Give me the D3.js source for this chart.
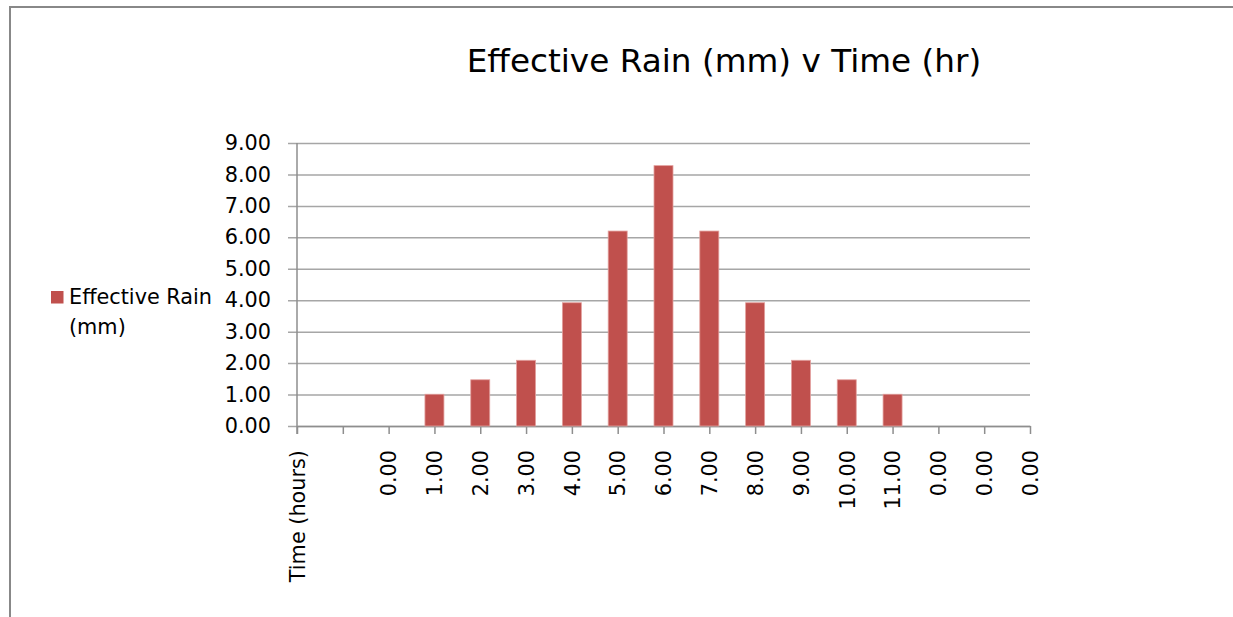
<!DOCTYPE html>
<html>
<head>
<meta charset="utf-8">
<script src="https://cdn.jsdelivr.net/npm/d3@7"></script>
<style>
  html, body { margin: 0; padding: 0; background: #fff; }
  svg { display: block; font-family: "DejaVu Sans", Verdana, sans-serif; }
</style>
</head>
<body>
<svg id="chart" width="1233" height="617"></svg>
<script>
// Category labels along the time axis (first entry is the header cell of the source column)
const timeLabels = ["Time (hours)", "", "0.00", "1.00", "2.00", "3.00", "4.00", "5.00",
  "6.00", "7.00", "8.00", "9.00", "10.00", "11.00", "0.00", "0.00", "0.00"];
// Effective rain depth (mm) per category
const effectiveRain = [null, null, 0, 1.01, 1.47, 2.09, 3.92, 6.20, 8.28, 6.20, 3.92,
  2.09, 1.47, 1.01, 0, 0, 0];
const yTicks = [0, 1, 2, 3, 4, 5, 6, 7, 8, 9];
const seriesName = ["Effective Rain", "(mm)"];
const titleText = "Effective Rain (mm) v Time (hr)";

const svg = d3.select("#chart");
const barColor = "#C0504D";
const gridColor = "#a6a6a6";
const axisColor = "#8e8e8e";
const labelSize = 20.8;

// Outer chart frame (left and top edges)
svg.append("path")
  .attr("d", "M10,617 V7 H1233")
  .attr("fill", "none")
  .attr("stroke", "#888")
  .attr("stroke-width", 2);

const plot = { left: 297, right: 1030, top: 143, bottom: 426 };

const x = d3.scalePoint()
  .domain(d3.range(timeLabels.length))
  .range([plot.left, plot.right])
  .padding(0);

const y = d3.scaleLinear()
  .domain([0, 9])
  .range([plot.bottom, plot.top]);

// Horizontal gridlines with short outward ticks
const yAxis = d3.axisLeft(y)
  .tickValues(yTicks)
  .tickFormat(d3.format(".2f"))
  .tickSize(-(plot.right - plot.left))
  .tickPadding(26);

const gy = svg.append("g")
  .attr("transform", `translate(${plot.left},0)`)
  .call(yAxis);
gy.select(".domain").remove();
gy.selectAll(".tick line")
  .attr("x1", -9)
  .attr("stroke", gridColor)
  .attr("stroke-width", 1.5);
gy.selectAll(".tick text")
  .attr("font-size", labelSize)
  .attr("fill", "#000")
  .attr("font-family", "DejaVu Sans, Verdana, sans-serif");

// Vertical axis line
svg.append("line")
  .attr("x1", plot.left).attr("x2", plot.left)
  .attr("y1", plot.top).attr("y2", plot.bottom + 8)
  .attr("stroke", axisColor)
  .attr("stroke-width", 1.5);

// Category axis
const xAxis = d3.axisBottom(x)
  .tickFormat(i => timeLabels[i])
  .tickSize(8)
  .tickSizeOuter(0)
  .tickPadding(0);

const gx = svg.append("g")
  .attr("transform", `translate(0,${plot.bottom})`)
  .call(xAxis);
gx.select(".domain")
  .attr("stroke", axisColor)
  .attr("stroke-width", 1.5);
gx.selectAll(".tick line")
  .attr("stroke", axisColor)
  .attr("stroke-width", 1.5);
gx.selectAll(".tick text")
  .attr("font-size", labelSize)
  .attr("fill", "#000")
  .attr("font-family", "DejaVu Sans, Verdana, sans-serif")
  .attr("text-anchor", "end")
  .attr("transform", "rotate(-90)")
  .attr("x", -24)
  .attr("y", 0)
  .attr("dy", "0.35em");

// Bars centred on the category ticks
const barWidth = 19;
svg.append("g")
  .selectAll("rect")
  .data(effectiveRain.map((v, i) => ({ i, v })).filter(d => d.v != null && d.v > 0))
  .join("rect")
  .attr("x", d => x(d.i) - barWidth / 2)
  .attr("y", d => y(d.v))
  .attr("width", barWidth)
  .attr("height", d => y(0) - y(d.v))
  .attr("fill", barColor)
  .attr("stroke", "#e3a09e")
  .attr("stroke-width", 0.8);

// Title
svg.append("text")
  .attr("x", 724)
  .attr("y", 72)
  .attr("text-anchor", "middle")
  .attr("font-size", 32.7)
  .attr("fill", "#000")
  .text(titleText);

// Legend
svg.append("rect")
  .attr("x", 51).attr("y", 291)
  .attr("width", 12.5).attr("height", 12.5)
  .attr("fill", barColor);

const legendText = svg.append("text")
  .attr("x", 69)
  .attr("y", 304)
  .attr("font-size", labelSize)
  .attr("fill", "#000");
legendText.selectAll("tspan")
  .data(seriesName)
  .join("tspan")
  .attr("x", 69)
  .attr("dy", (d, i) => i === 0 ? 0 : 30)
  .text(d => d);
</script>
</body>
</html>
